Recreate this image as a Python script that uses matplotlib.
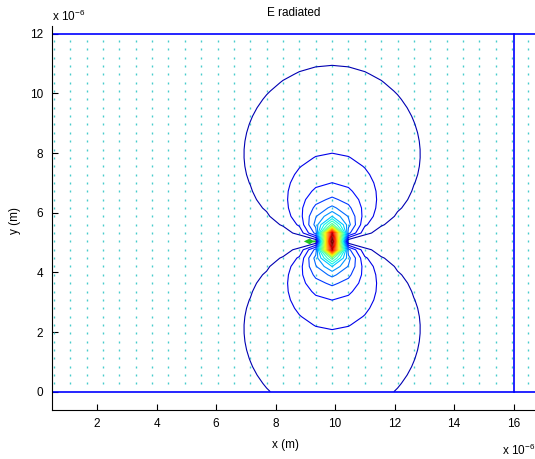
import numpy as np
import matplotlib.pyplot as plt

plt.rcParams['font.family'] = ['Liberation Sans', 'DejaVu Sans']
plt.rcParams['mathtext.default'] = 'regular'

# simulation grid (in um)
x_step, n_x = 0.55, 31
y_step, n_y = 0.28, 43
# dipole source position (um)
src_x, src_y = 9.9, 5.04
# radius of outermost contour lobe (um) and number of contour levels
lobe_r = 2.95
n_levels = 22
peak = 3.9
# green arrow near the source: x, y, u, v
arrow = [9.4, 5.04, -0.45, 0.0]
# domain boundary lines
bound_y = [0, 12]
bound_x = 16
xticks = [2, 4, 6, 8, 10, 12, 14, 16]
yticks = [0, 2, 4, 6, 8, 10, 12]

xg = np.arange(n_x) * x_step
yg = np.arange(n_y) * y_step
X, Y = np.meshgrid(xg, yg)
dx = X - src_x
dy = Y - src_y
r2 = dx**2 + dy**2
E = np.where(r2 > 1e-9, np.abs(dy) / np.where(r2 > 1e-9, r2, 1), peak)
step = 1.0 / (2 * lobe_r)
levels = step * np.arange(1, n_levels + 1)

fig = plt.figure(figsize=(5.35, 4.59), dpi=100)
ax = fig.add_axes([0.0966, 0.1068, 0.9034, 0.8366])

# little quiver marks
ax.plot(X[1:, 1:].ravel(), Y[1:, 1:].ravel(), ls='none', marker='|', ms=1.5,
        mew=1.0, color='#48cccc')
ax.contour(X, Y, E, levels=levels, cmap='jet', vmin=0, vmax=levels[-1],
           linewidths=0.8)
ax.quiver(arrow[0], arrow[1], arrow[2], arrow[3], color='#20c020',
          angles='xy', scale_units='xy', scale=1, width=0.004,
          headwidth=3, headlength=3)

for yb in bound_y:
    ax.axhline(yb, color='b', lw=1.2)
ax.plot([bound_x, bound_x], [bound_y[0], bound_y[1]], color='b', lw=1.2)

ax.set_xlim(0.474, 16.72)
ax.set_ylim(-0.61, 12.26)
ax.set_xticks(xticks)
ax.set_yticks(yticks)
ax.tick_params(direction='in', length=4, width=0.8, labelsize=8.5, pad=6)
ax.spines['top'].set_visible(False)
ax.spines['right'].set_visible(False)

ax.set_title('E radiated', fontsize=8.5, pad=7)
fig.text(285/535, 1 - 445/459, 'x (m)', ha='center', va='center', fontsize=8.5)
fig.text(15/535, 1 - 220/459, 'y (m)', ha='center', va='center',
         rotation=90, fontsize=8.5)
fig.text(52/535, 1 - 16/459, r'x 10$^{-6}$', ha='left', va='center', fontsize=8.5)
fig.text(502/535, 1 - 450/459, r'x 10$^{-6}$', ha='left', va='center', fontsize=8.5)

fig.savefig('out.png', dpi=100)
